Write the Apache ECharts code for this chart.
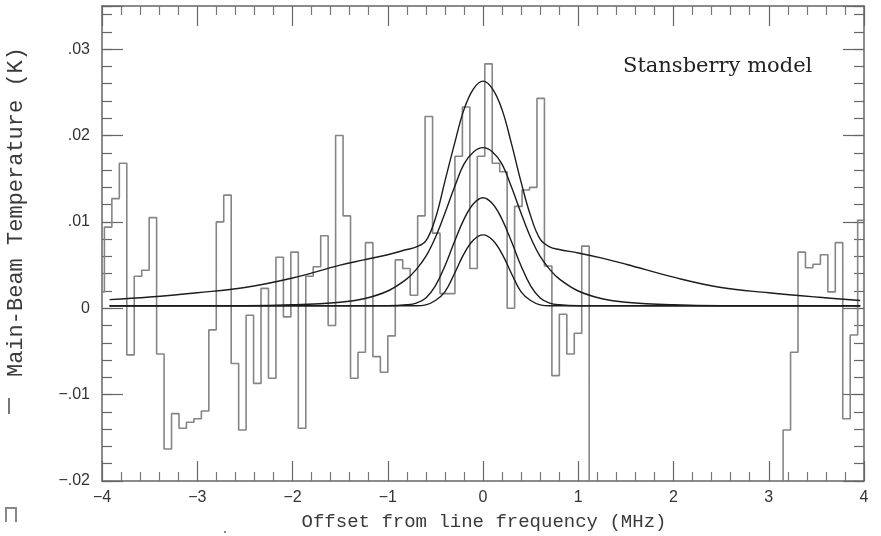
<!DOCTYPE html>
<html>
<head>
<meta charset="utf-8">
<script src="https://cdn.jsdelivr.net/npm/echarts@6/dist/echarts.min.js"></script>
<style>html,body{margin:0;padding:0;background:#fff}#c{width:881px;height:536px}</style>
</head>
<body>
<div id="c"></div>
<script>
// ---- data ----
// spectrometer channels: left edge of first channel and channel width (MHz)
const chanStart = -4.053;
const chanWidth = 0.0783;
// main-beam temperature per channel (K); -0.03 = off the bottom of the plot
const histValues = [
  0.0019,
  0.0094, 0.0127, 0.0168, -0.0054, 0.0037, 0.0044, 0.0105, -0.0053, -0.0163, -0.0122,
  -0.0139, -0.0132, -0.0128, -0.0119, -0.0025, 0.0100, 0.0131, -0.0064, -0.0141, -0.0008,
  -0.0087, 0.0023, -0.0081, 0.0059, -0.0010, 0.0065, -0.0139, 0.0037, 0.0048, 0.0084,
  -0.0020, 0.0200, 0.0107, -0.0081, -0.0051, 0.0076, -0.0056, -0.0074, -0.0032, 0.0056,
  0.0046, 0.0015, 0.0107, 0.0222, 0.0087, 0.0017, 0.0017, 0.0176, 0.0233, 0.0046,
  0.0176, 0.0283, 0.0168, 0.0158, 0.0000, 0.0118, 0.0137, 0.0140, 0.0243, 0.0049,
  -0.0078, -0.0007, -0.0053, -0.0029, 0.0072,
  -0.03, -0.03, -0.03, -0.03, -0.03, -0.03, -0.03, -0.03, -0.03, -0.03,
  -0.03, -0.03, -0.03, -0.03, -0.03, -0.03, -0.03, -0.03, -0.03, -0.03,
  -0.03, -0.03, -0.03, -0.03, -0.03, -0.03,
  -0.0141, -0.0051, 0.0065, 0.0047, 0.0051, 0.0062, 0.0019, 0.0076, -0.0128, -0.0031, 0.0102
];
// model curves
const curveX = [-3.92, -3.5, -3, -2.5, -2, -1.5, -1.25, -1, -0.8, -0.7, -0.6, -0.5, -0.4, -0.3, -0.2, -0.1,
  0, 0.1, 0.2, 0.3, 0.4, 0.5, 0.6, 0.7, 0.8, 1, 1.25, 1.5, 2, 2.5, 3, 3.5, 3.96];
const modelA = [0.0010, 0.0013, 0.0018, 0.0024, 0.0035, 0.0050, 0.0056, 0.0062, 0.0068, 0.0071, 0.0078, 0.0104, 0.0147, 0.0190, 0.0230, 0.0254,
  0.0263, 0.0254, 0.0230, 0.0190, 0.0146, 0.0107, 0.0080, 0.0071, 0.0068, 0.0064, 0.0058, 0.0051, 0.0036, 0.0024, 0.0018, 0.0013, 0.0009];
const modelB = [0.0003, 0.0003, 0.0003, 0.0003, 0.0004, 0.0007, 0.0011, 0.0020, 0.0034, 0.0045, 0.0060, 0.0082, 0.0110, 0.0140, 0.0167, 0.0181,
  0.0186, 0.0181, 0.0167, 0.0140, 0.0110, 0.0082, 0.0060, 0.0045, 0.0034, 0.0020, 0.0011, 0.0007, 0.0004, 0.0003, 0.0003, 0.0003, 0.0003];
const modelC = [0.0003, 0.0003, 0.0003, 0.0003, 0.0003, 0.0003, 0.0003, 0.0003, 0.0004, 0.0006, 0.0012, 0.0026, 0.0049, 0.0077, 0.0103, 0.0121,
  0.0128, 0.0121, 0.0103, 0.0077, 0.0049, 0.0026, 0.0012, 0.0006, 0.0004, 0.0003, 0.0003, 0.0003, 0.0003, 0.0003, 0.0003, 0.0003, 0.0003];
const modelD = [0.0003, 0.0003, 0.0003, 0.0003, 0.0003, 0.0003, 0.0003, 0.0003, 0.0003, 0.0003, 0.0004, 0.0009, 0.0019, 0.0040, 0.0063, 0.0079,
  0.0085, 0.0079, 0.0063, 0.0040, 0.0019, 0.0009, 0.0004, 0.0003, 0.0003, 0.0003, 0.0003, 0.0003, 0.0003, 0.0003, 0.0003, 0.0003, 0.0003];
// tick labels
const xTickValues = [-4, -3, -2, -1, 0, 1, 2, 3, 4];
const xTickLabels = ['\u22124', '\u22123', '\u22122', '\u22121', '0', '1', '2', '3', '4'];
const yTickValues = [-0.02, -0.01, 0, 0.01, 0.02, 0.03];
const yTickLabels = ['\u2212.02', '\u2212.01', '0', '.01', '.02', '.03'];
const xTitle = 'Offset from line frequency (MHz)';
const yTitle = 'Main-Beam Temperature (K)';
const modelLabel = 'Stansberry model';

// ---- build step outline for the histogram ----
const histData = [];
histValues.forEach(function (v, i) {
  const x0 = chanStart + i * chanWidth;
  histData.push([x0, v], [x0 + chanWidth, v]);
});
function pairs(xs, ys) { return xs.map(function (x, i) { return [x, ys[i]]; }); }
function lookup(vals, labels, v) {
  for (let i = 0; i < vals.length; i++) if (Math.abs(vals[i] - v) < 1e-9) return labels[i];
  return '';
}

const axisColor = '#666';
const labelFont = { color: '#333', fontSize: 16, fontFamily: 'Liberation Sans' };
function xAx(pos, showLabel) {
  return {
    type: 'value', position: pos, min: -4, max: 4, interval: 1,
    axisLine: { show: true, onZero: false, lineStyle: { color: axisColor, width: 1.5 } },
    axisTick: { show: true, inside: true, length: 20, lineStyle: { color: axisColor, width: 1.2 } },
    minorTick: { show: true, splitNumber: 5, length: 9, lineStyle: { color: '#777', width: 1.2 } },
    splitLine: { show: false },
    axisLabel: Object.assign({ show: showLabel, margin: 9,
      formatter: function (v) { return lookup(xTickValues, xTickLabels, v); } }, labelFont)
  };
}
function yAx(pos, interval, len, showLabel, showLine) {
  return {
    type: 'value', position: pos, min: -0.02, max: 0.035, interval: interval,
    axisLine: { show: showLine, onZero: false, lineStyle: { color: axisColor, width: 1.5 } },
    axisTick: { show: true, inside: true, length: len, lineStyle: { color: axisColor, width: 1.2 } },
    splitLine: { show: false },
    axisLabel: Object.assign({ show: showLabel, margin: 12,
      formatter: function (v) { return lookup(yTickValues, yTickLabels, v); } }, labelFont)
  };
}

const curveStyle = { color: '#1c1c1c', width: 1.4 };
function curveSeries(ys) {
  return { type: 'line', data: pairs(curveX, ys), smooth: 0.4, showSymbol: false,
    lineStyle: curveStyle, xAxisIndex: 0, yAxisIndex: 0, z: 3, silent: true };
}

const chart = echarts.init(document.getElementById('c'), null, { renderer: 'canvas' });
chart.setOption({
  animation: false,
  backgroundColor: '#fff',
  grid: { left: 102, right: 17, top: 6, bottom: 55, containLabel: false },
  xAxis: [xAx('bottom', true), xAx('top', false)],
  yAxis: [
    yAx('left', 0.01, 21, true, true),
    yAx('left', 0.002, 10, false, false),
    yAx('right', 0.01, 21, false, true),
    yAx('right', 0.002, 10, false, false)
  ],
  series: [
    { type: 'line', data: histData, showSymbol: false, clip: true,
      lineStyle: { color: '#858585', width: 1.6 }, xAxisIndex: 0, yAxisIndex: 0, z: 2, silent: true },
    curveSeries(modelA), curveSeries(modelB), curveSeries(modelC), curveSeries(modelD)
  ],
  graphic: [
    { type: 'text', left: 623, top: 56,
      style: { text: modelLabel, fill: '#222', fontSize: 21, fontFamily: 'DejaVu Serif' } },
    { type: 'text', x: 484, y: 522,
      style: { text: xTitle, fill: '#3a3a3a', fontSize: 19, fontFamily: 'Liberation Mono',
        textAlign: 'center', textVerticalAlign: 'middle' } },
    { type: 'text', x: 16, y: 212, rotation: Math.PI / 2,
      style: { text: yTitle, fill: '#3a3a3a', fontSize: 22, fontFamily: 'Liberation Mono',
        textAlign: 'center', textVerticalAlign: 'middle' } },
    // stray marks at the left edge of the scan
    { type: 'polyline', shape: { points: [[9, 398], [9, 414]] }, style: { stroke: '#777', lineWidth: 2, fill: null } },
    { type: 'polyline', shape: { points: [[6, 522], [6, 508], [16, 508], [16, 522]] }, style: { stroke: '#888', lineWidth: 2, fill: null } },
    { type: 'polyline', shape: { points: [[224, 532], [226, 532]] }, style: { stroke: '#888', lineWidth: 2, fill: null } }
  ]
});
</script>
</body>
</html>
